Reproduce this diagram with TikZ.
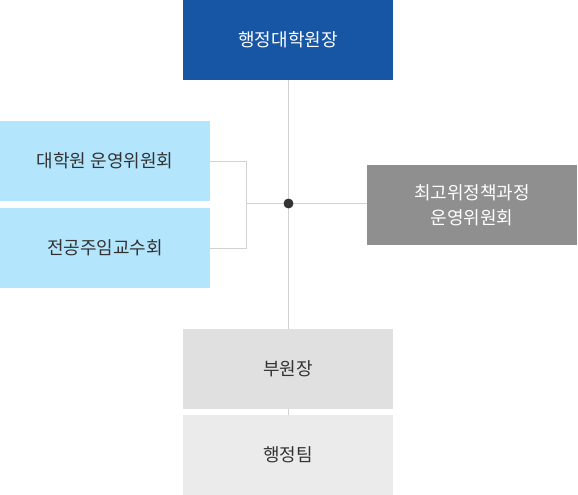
\documentclass[tikz,border=0pt]{standalone}
\usepackage{fontspec}
\setmainfont{Noto Sans CJK KR}
\usetikzlibrary{positioning}
\definecolor{deanblue}{HTML}{1656A5}
\definecolor{skyblue}{HTML}{B3E5FC}
\definecolor{policygray}{HTML}{8F8F8F}
\definecolor{vicegray}{HTML}{E0E0E0}
\definecolor{teamgray}{HTML}{EBEBEB}
\definecolor{linegray}{HTML}{D2D2D2}
\definecolor{textdark}{HTML}{333333}
\tikzset{box/.style={minimum width=210pt, minimum height=80pt, inner sep=0pt, outer sep=0pt, align=center, font=\fontsize{18}{25}\selectfont},
%lines between boxes
link/.style={draw=linegray, line width=1pt}}

\begin{document}
\begin{tikzpicture}[x=1pt,y=1pt]
\useasboundingbox (0,0) rectangle (578,-495);
% head
\node[box,fill=deanblue,text=white] (dean) at (288,-40) {행정대학원장};
% committees on the left
\node[box,fill=skyblue,text=textdark] (council) at (105,-161) {대학원 운영위원회};
\node[box,fill=skyblue,text=textdark,below=7pt of council] (profs) {전공주임교수회};
% committee on the right
\node[box,fill=policygray,text=white] (policy) at (472,-205) {최고위정책과정\\운영위원회};
% below
\node[box,fill=vicegray,text=textdark] (vice) at (288,-369) {부원장};
\node[box,fill=teamgray,text=textdark,below=6pt of vice] (team) {행정팀};

\coordinate (jct) at (246.5,-203.5);
\node[circle,fill=textdark,minimum size=10pt,inner sep=0pt] (hub) at (288.5,-203.5) {};

\draw[link] (dean.south -| hub) -- (hub) -- (vice.north -| hub);
\draw[link] (vice.south -| hub) -- (team.north -| hub);
\draw[link] (council.east) -| (jct) |- (profs.east);
\draw[link] (jct) -- (hub) -- (policy.west |- hub);

\end{tikzpicture}
\end{document}
